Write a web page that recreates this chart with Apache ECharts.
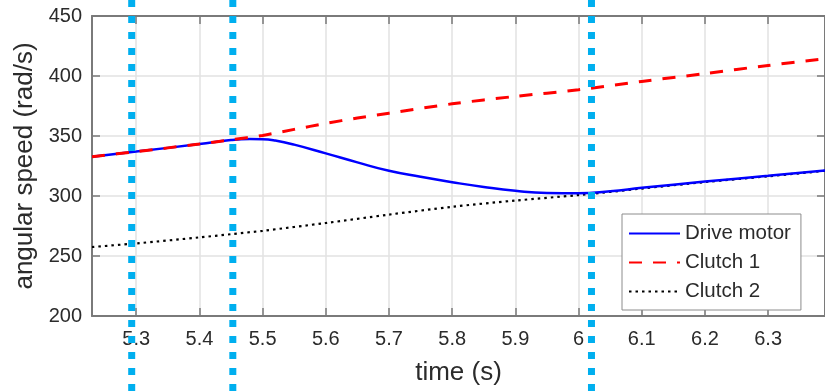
<!DOCTYPE html>
<html>
<head>
<meta charset="utf-8">
<script src="https://cdn.jsdelivr.net/npm/echarts@6/dist/echarts.min.js"></script>
<style>html,body{margin:0;padding:0;background:#fff;}#c{width:825px;height:391px;}</style>
</head>
<body>
<div id="c"></div>
<script>
// ---- data ----
var seriesNames = ['Drive motor', 'Clutch 1', 'Clutch 2'];
var xTicks = [5.3, 5.4, 5.5, 5.6, 5.7, 5.8, 5.9, 6.0, 6.1, 6.2, 6.3];
var xTickLabels = ['5.3', '5.4', '5.5', '5.6', '5.7', '5.8', '5.9', '6', '6.1', '6.2', '6.3'];
var timeMotor = [5.23, 5.30, 5.40, 5.45, 5.48, 5.50, 5.52, 5.55, 5.60, 5.65, 5.70, 5.75, 5.80, 5.85, 5.90, 5.95, 6.00, 6.05, 6.10, 6.20, 6.30, 6.39];
var motorSpeed = [332.8, 337, 343.3, 346.6, 347.4, 347.3, 346.2, 342.8, 335.5, 328, 321, 316, 311.5, 307.5, 304.3, 302.5, 302.3, 304, 306.8, 312, 316.8, 321.3];
var timeClutch1 = [5.23, 5.30, 5.40, 5.45, 5.50, 5.55, 5.60, 5.65, 5.70, 5.80, 5.90, 6.00, 6.10, 6.20, 6.30, 6.39];
var clutch1Speed = [332.8, 337, 343.3, 346.8, 350.5, 355.5, 360.5, 365, 369, 376.8, 383, 388.5, 395.5, 402, 408.8, 414.3];
var timeClutch2 = [5.23, 5.30, 5.40, 5.45, 5.50, 5.60, 5.70, 5.80, 5.90, 6.00, 6.10, 6.20, 6.30, 6.39];
var clutch2Speed = [257.5, 260.5, 265.5, 268.2, 271, 277.5, 284.5, 291, 296.2, 300.8, 306.2, 311.6, 316.4, 321];
var markerTimes = [5.293, 5.453, 6.0205];

function zip(xs, ys) { return xs.map(function (x, i) { return [x, ys[i]]; }); }

var X_MIN = 5.23, X_MAX = 6.39;
var FONT = 'Liberation Sans, Arial, sans-serif';
var AXIS_COLOR = '#7a7a7a';
var GRID_COLOR = '#e2e2e2';
var TEXT_COLOR = '#2b2b2b';

var markerSeries = markerTimes.map(function (t, i) {
  return {
    name: 'marker' + i, type: 'line', xAxisIndex: 2, yAxisIndex: 2,
    data: [[t, 1], [t, 0]], symbol: 'none', silent: true, z: 10,
    lineStyle: { color: '#00AFEF', width: 7, type: [7, 9], cap: 'butt' }
  };
});

var chart = echarts.init(document.getElementById('c'), null, { renderer: 'canvas' });
chart.setOption({
  animation: false,
  backgroundColor: '#fff',
  grid: [
    { left: 92, right: -1, top: 16, bottom: 75, containLabel: false },
    { left: 0, right: 0, top: 0, bottom: 0 }
  ],
  legend: {
    data: seriesNames,
    orient: 'vertical',
    left: 622, top: 214,
    padding: [9, 10, 8, 6],
    itemGap: 8,
    itemWidth: 51, itemHeight: 14,
    itemStyle: { opacity: 0 },
    backgroundColor: '#fff',
    borderColor: '#8c8c8c', borderWidth: 1, borderRadius: 0,
    textStyle: { fontFamily: FONT, fontSize: 20.5, color: TEXT_COLOR },
    z: 20
  },
  xAxis: [
    {
      type: 'value', gridIndex: 0, min: X_MIN, max: X_MAX, position: 'bottom',
      name: 'time (s)', nameLocation: 'middle', nameGap: 44,
      nameTextStyle: { fontFamily: FONT, fontSize: 26, color: TEXT_COLOR },
      axisLine: { show: true, onZero: false, lineStyle: { color: AXIS_COLOR, width: 2 } },
      axisTick: { show: true, inside: true, length: 8, customValues: xTicks, lineStyle: { color: AXIS_COLOR, width: 1.5 } },
      axisLabel: {
        customValues: xTicks, margin: 13,
        fontFamily: FONT, fontSize: 20, color: TEXT_COLOR,
        formatter: function (v) { var i = xTicks.findIndex(function (t) { return Math.abs(t - v) < 1e-6; }); return i >= 0 ? xTickLabels[i] : ''; }
      },
      splitLine: { show: true, lineStyle: { color: GRID_COLOR, width: 1.5 } }
    },
    {
      type: 'value', gridIndex: 0, min: X_MIN, max: X_MAX, position: 'top',
      axisLine: { show: true, onZero: false, lineStyle: { color: AXIS_COLOR, width: 2 } },
      axisTick: { show: true, inside: true, length: 8, customValues: xTicks, lineStyle: { color: AXIS_COLOR, width: 1.5 } },
      axisLabel: { show: false },
      splitLine: { show: false }
    },
    { type: 'value', gridIndex: 1, min: X_MIN - 92 / 632.8, max: X_MAX, show: false }
  ],
  yAxis: [
    {
      type: 'value', gridIndex: 0, min: 200, max: 450, interval: 50, position: 'left',
      name: 'angular speed (rad/s)', nameLocation: 'middle', nameGap: 49,
      nameTextStyle: { fontFamily: FONT, fontSize: 26, color: TEXT_COLOR },
      axisLine: { show: true, onZero: false, lineStyle: { color: AXIS_COLOR, width: 2 } },
      axisTick: { show: true, inside: true, length: 8, lineStyle: { color: AXIS_COLOR, width: 1.5 } },
      axisLabel: { margin: 10, fontFamily: FONT, fontSize: 20, color: TEXT_COLOR },
      splitLine: { show: true, lineStyle: { color: GRID_COLOR, width: 1.5 } }
    },
    {
      type: 'value', gridIndex: 0, min: 200, max: 450, interval: 50, position: 'right',
      axisLine: { show: true, onZero: false, lineStyle: { color: AXIS_COLOR, width: 2 } },
      axisTick: { show: true, inside: true, length: 8, lineStyle: { color: AXIS_COLOR, width: 1.5 } },
      axisLabel: { show: false },
      splitLine: { show: false }
    },
    { type: 'value', gridIndex: 1, min: 0, max: 1, show: false }
  ],
  series: [
    {
      name: seriesNames[0], type: 'line', xAxisIndex: 0, yAxisIndex: 0,
      data: zip(timeMotor, motorSpeed), symbol: 'none', smooth: 0.5, z: 4,
      lineStyle: { color: '#0000ff', width: 2.5, type: 'solid' }, itemStyle: { color: '#0000ff' }
    },
    {
      name: seriesNames[1], type: 'line', xAxisIndex: 0, yAxisIndex: 0,
      data: zip(timeClutch1, clutch1Speed), symbol: 'none', smooth: 0.3, z: 5,
      lineStyle: { color: '#ff0000', width: 3, type: [13, 11] }, itemStyle: { color: '#ff0000' }
    },
    {
      name: seriesNames[2], type: 'line', xAxisIndex: 0, yAxisIndex: 0,
      data: zip(timeClutch2, clutch2Speed), symbol: 'none', smooth: 0.3, z: 3,
      lineStyle: { color: '#000000', width: 2.2, type: [2.5, 4] }, itemStyle: { color: '#000000' }
    }
  ].concat(markerSeries)
});
</script>
</body>
</html>
